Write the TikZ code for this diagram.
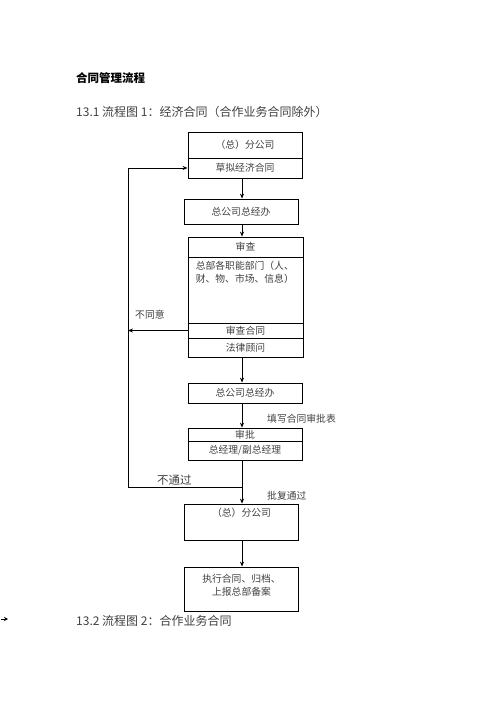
\documentclass[tikz,border=0pt]{standalone}
\usepackage{fontspec}
\setmainfont{Noto Sans CJK SC}
\usetikzlibrary{arrows.meta}
\begin{document}
\begin{tikzpicture}[x=1pt,y=-1pt,
  box/.style={draw=black,line width=0.8pt,minimum width=114pt,inner sep=0pt,font=\fontsize{9.8}{11}\selectfont,text=black!75},
  lbl/.style={inner sep=0pt,font=\fontsize{9.8}{11}\selectfont,text=black!75},
  arr/.style={line width=0.8pt,-{Stealth[length=5pt,width=4pt]}},
  ln/.style={line width=0.8pt}]
\useasboundingbox (0,0) rectangle (496,702);
% headings
\node[anchor=west,inner sep=0pt,font=\fontsize{11.5}{13}\selectfont\bfseries] (title) at (76,78) {合同管理流程};
\node[anchor=west,inner sep=0pt,font=\fontsize{12}{13}\selectfont,text=black!75] (h1) at (76,112) {13.1 流程图 1：经济合同（合作业务合同除外）};
\node[anchor=west,inner sep=0pt,font=\fontsize{12}{13}\selectfont,text=black!75] (h2) at (76,621) {13.2 流程图 2：合作业务合同};
% boxes
\node[box,minimum height=26pt] (b1a) at (245,145) {（总）分公司};
\node[box,minimum height=20pt] (b1b) at (245,168) {草拟经济合同};
\node[box,minimum height=25pt] (b2) at (241,211.5) {总公司总经办};
\node[box,minimum width=115pt,minimum height=20pt] (b3a) at (245.5,247) {审查};
\node[box,minimum width=115pt,minimum height=66pt] (b3b) at (245.5,290) {};
\node[lbl,anchor=north west,align=left,font=\fontsize{9.8}{13}\selectfont] (b3t) at ([xshift=8pt,yshift=-4pt]b3b.north west) {总部各职能部门（人、\\财、物、市场、信息）};
\node[box,minimum width=115pt,minimum height=15pt] (b3c) at (245.5,330.5) {审查合同};
\node[box,minimum width=115pt,minimum height=19pt] (b3d) at (245.5,347.5) {法律顾问};
\node[box,minimum height=20pt] (b4) at (245,393) {总公司总经办};
\node[box,minimum height=13pt] (b5a) at (245,434.5) {审批};
\node[box,minimum height=19pt] (b5b) at (245,450.5) {总经理/副总经理};
\node[box,minimum height=36pt] (b6) at (241.5,522) {};
\node[lbl] (b6t) at (241.5,513) {（总）分公司};
\node[box,minimum height=44pt] (b7) at (241.5,589) {};
\node[lbl,align=center,font=\fontsize{9.8}{13}\selectfont] (b7t) at (241.5,585) {执行合同、归档、\\上报总部备案};
% labels
\node[lbl,anchor=west] (l1) at (135,315) {不同意};
\node[lbl,anchor=west] (l2) at (267,419) {填写合同审批表};
\node[lbl,anchor=west,font=\fontsize{11.5}{13}\selectfont] (l3) at (157,480) {不通过};
\node[lbl,anchor=west] (l4) at (267,496) {批复通过};
% arrows
\coordinate (ax) at (242,0);
\coordinate (lx) at (128,0);
\coordinate (J) at (242,487);
\draw[arr] (b1b.south -| ax) -- (b2.north -| ax);
\draw[arr] (b2.south -| ax) -- (b3a.north -| ax);
\draw[arr] (b3d.south -| ax) -- (b4.north -| ax);
\draw[arr] (b4.south -| ax) -- (b5a.north -| ax);
\draw[arr] (b5b.south -| ax) -- (b6.north -| ax);
\draw[arr] (b6.south -| ax) -- (b7.north -| ax);
\draw[arr] (b3c.west) -- (b3c.west -| lx);
\draw[arr] (J) -- (J -| lx) -- (b1b.west -| lx) -- (b1b.west);
% small stray arrow
\coordinate (s1) at (1,619);
\coordinate (s2) at (8,619);
\draw[line width=0.6pt,-{Stealth[length=4pt,width=4pt]}] (s1) -- (s2);
\end{tikzpicture}
\end{document}
